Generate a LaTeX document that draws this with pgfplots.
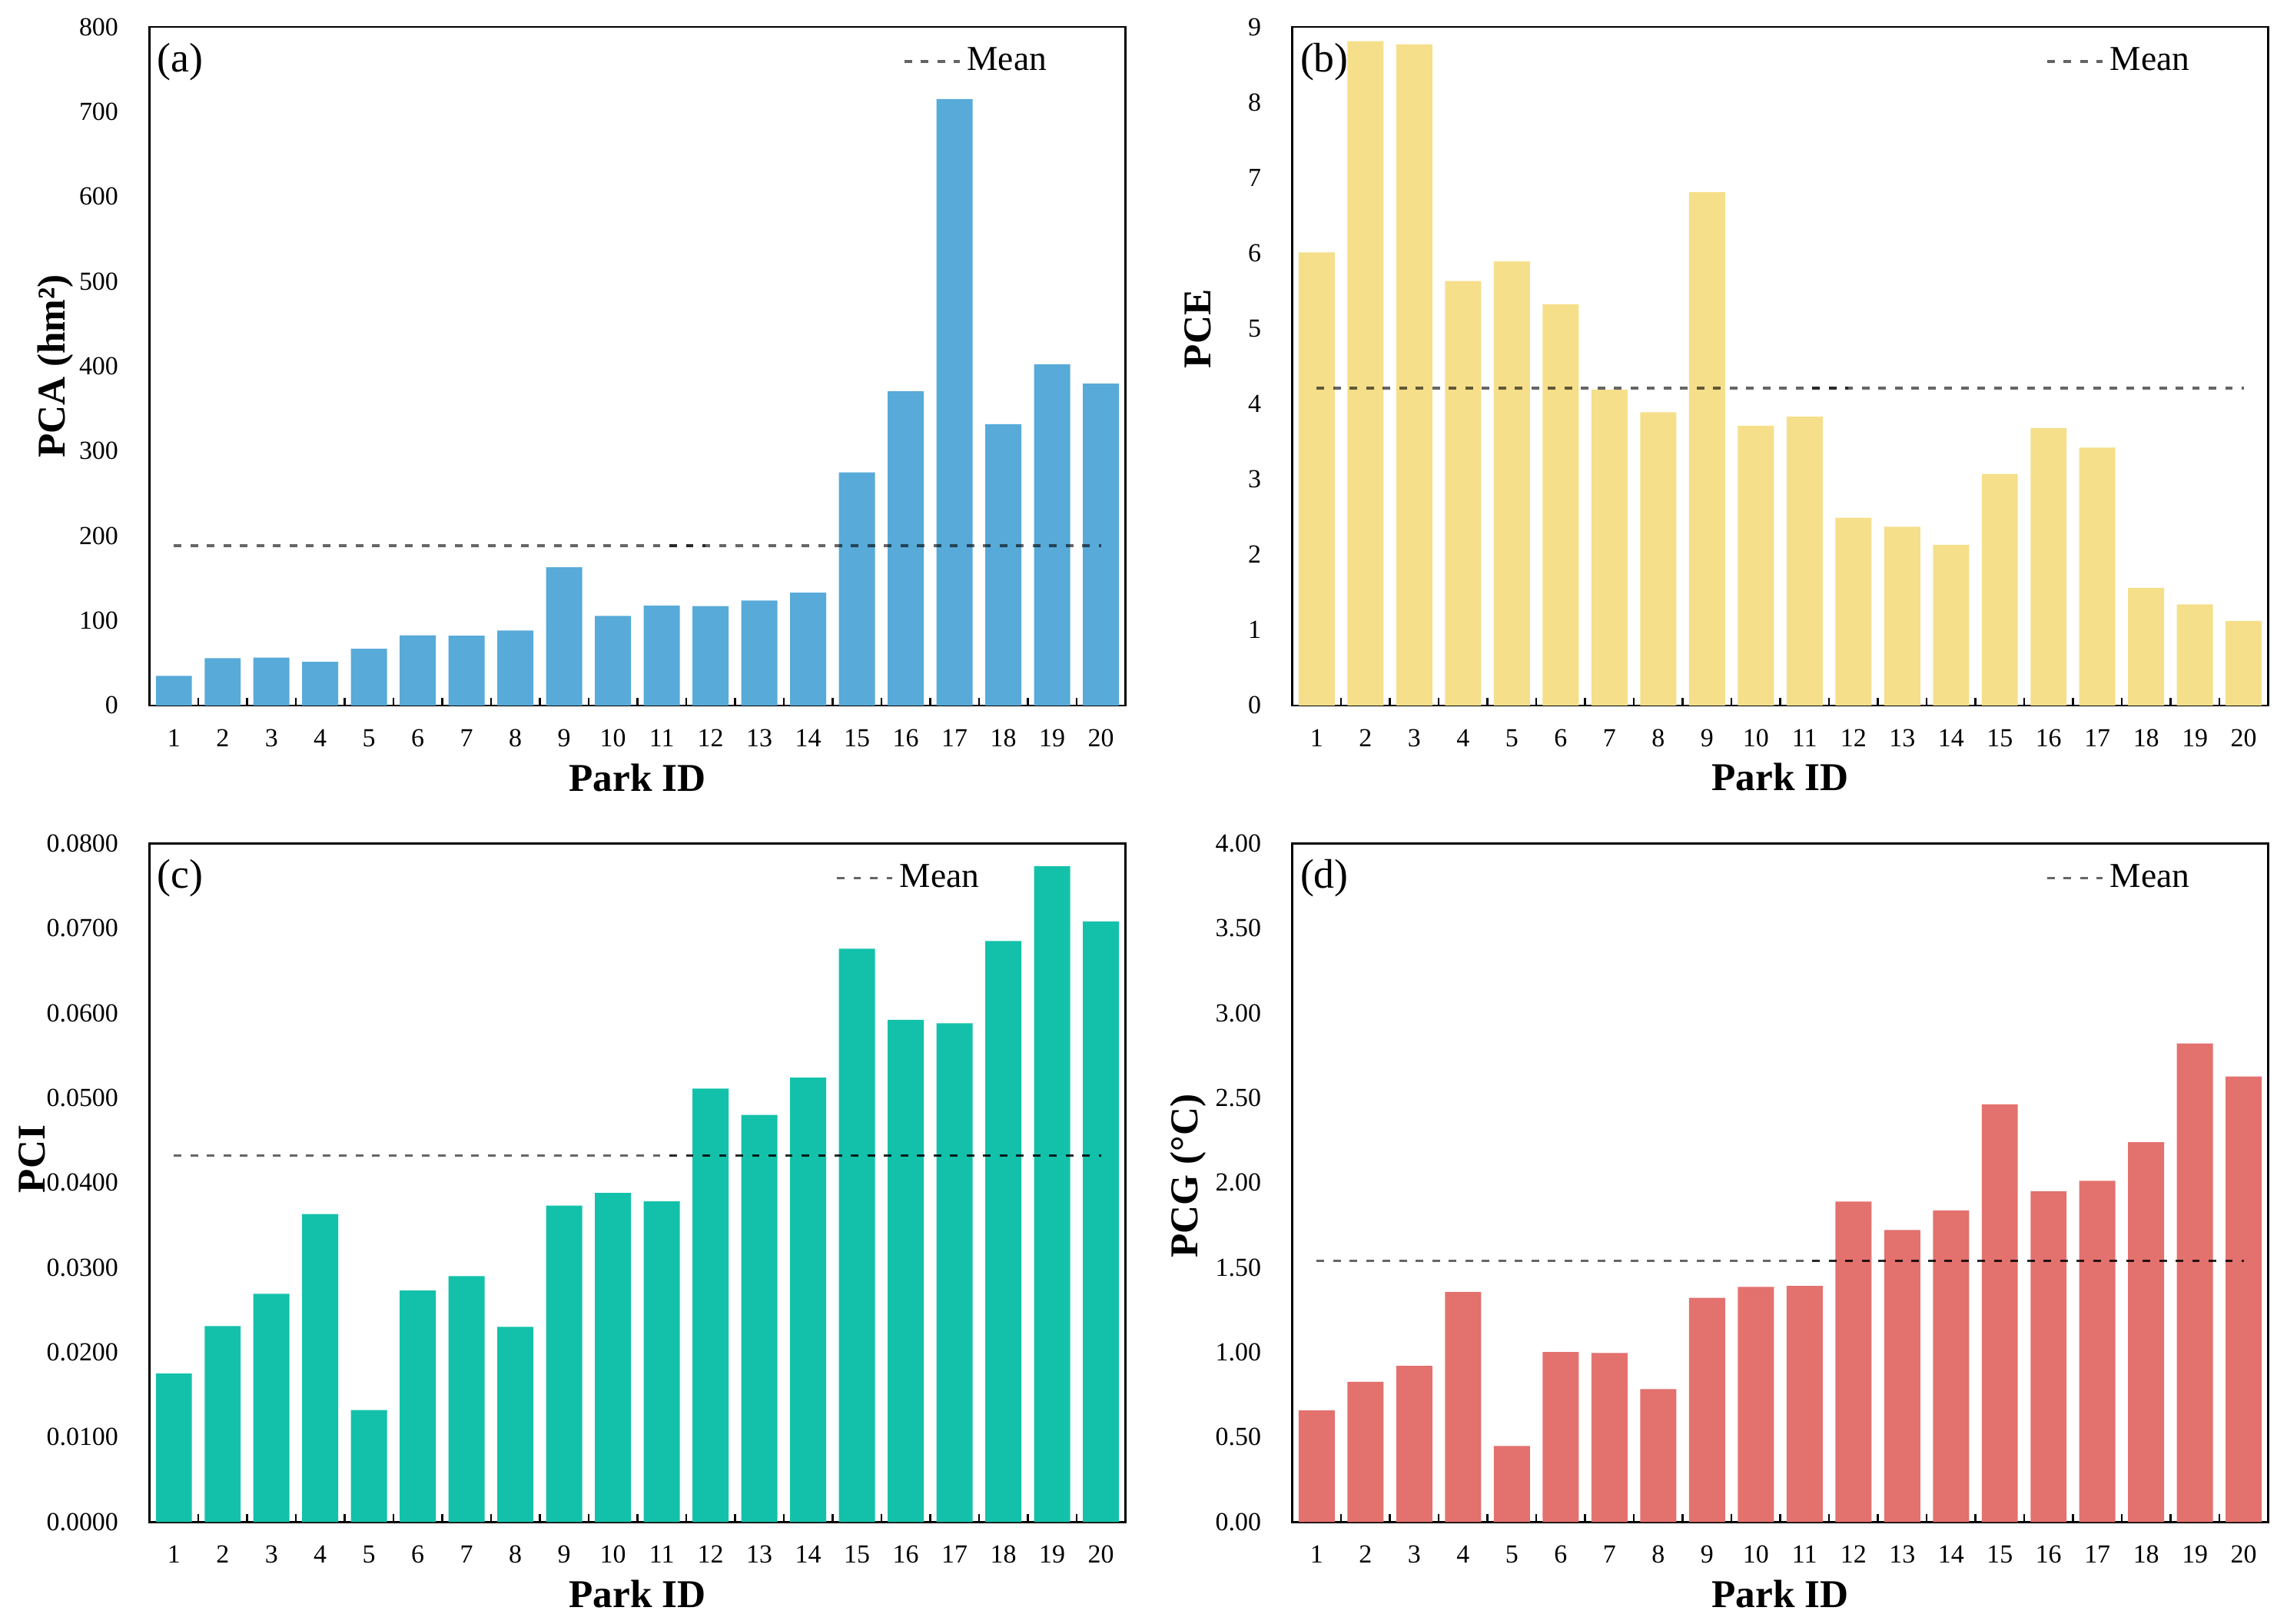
\documentclass[border=0pt]{standalone}
\usepackage{pgfplots}
\pgfplotsset{compat=1.18}
\usepackage{fontspec}
\setmainfont{Liberation Serif}
\definecolor{cA}{HTML}{58AAD8}
\definecolor{cB}{HTML}{F5DF8A}
\definecolor{cC}{HTML}{13C1AA}
\definecolor{cD}{HTML}{E3716E}

\pgfplotsset{
  panel/.style={
    width=307.2pt, height=213.6pt, scale only axis,
    anchor=north west,
    xmin=0.5, xmax=20.5, ymin=0,
    xtick={1,...,20},
    minor xtick={1.5,2.5,...,19.5},
    xtick pos=bottom, ytick pos=left,
    tick align=inside,
    major tick length=0pt,
    minor tick length=2.4pt,
    axis line style={line width=0.6pt, black},
    every tick/.style={black, line width=0.6pt},
    ytick style={draw=none},
    ticklabel style={font=\fontsize{8.2}{9}\selectfont},
    xticklabel style={yshift=-4pt},
    yticklabel style={xshift=-6.3pt},
    /pgf/number format/assume math mode=true,
    scaled y ticks=false,
    xlabel={Park ID},
    xlabel style={font=\fontsize{12.4}{14}\selectfont\bfseries,
      at={(axis description cs:0.5,-0.106)}, anchor=center},
    legend style={draw=none, fill=none, anchor=east, inner sep=0pt, outer sep=0pt,
      font=\fontsize{11}{13}\selectfont,
      /tikz/every even column/.append style={column sep=0pt}},
    legend image code/.code={\draw[#1] (0pt,0pt) -- (17.4pt,0pt);},
    clip=false,
  },
  meanline/.style={black, opacity=0.6, line width=0.8pt, dash pattern=on 2.4pt off 2.8pt},
  overline/.style={black, opacity=0.6, line width=0.8pt, dash pattern=on 2.4pt off 2.8pt, dash phase=2.8pt, forget plot},
  bars/.style={ybar, bar width=0.74, draw=none, forget plot},
}

\begin{document}
\begin{tikzpicture}
\useasboundingbox (0pt,0pt) rectangle (720pt,-511pt);

% (a)
\begin{axis}[panel, at={(47.06pt,-8.47pt)},
  ymax=800, ytick={0,100,...,800},
  ylabel={PCA (hm²)},
  ylabel style={font=\fontsize{12.4}{14}\selectfont\bfseries, at={(axis description cs:-0.0965,0.5)}, anchor=center},
  legend style={at={(axis description cs:0.926,0.949)}}]
\addplot[bars, fill=cA] coordinates {
(1,35) (2,55.8) (3,56.4) (4,51.5) (5,66.8) (6,82.8) (7,82.2) (8,88.3) (9,163) (10,105.5)
(11,117.7) (12,117.1) (13,123.8) (14,133) (15,274.7) (16,370.3) (17,714.9) (18,331.7) (19,402.2) (20,379.5)};
\addplot[meanline] coordinates {(1,188.5) (20,188.5)};
\addlegendentry{Mean}
\addplot[overline] coordinates {(11,188.5) (11.9,188.5)};
\node[anchor=west, inner sep=0pt, font=\fontsize{13}{15}\selectfont] at (rel axis cs:0.0075,0.9485) {(a)};
\end{axis}

% (b)
\begin{axis}[panel, at={(406.85pt,-8.47pt)},
  ymax=9, ytick={0,1,...,9},
  ylabel={PCE},
  ylabel style={font=\fontsize{12.4}{14}\selectfont\bfseries, at={(axis description cs:-0.097,0.555)}, anchor=center},
  legend style={at={(axis description cs:0.926,0.949)}}]
\addplot[bars, fill=cB] coordinates {
(1,6.01) (2,8.81) (3,8.77) (4,5.63) (5,5.89) (6,5.32) (7,4.19) (8,3.89) (9,6.81) (10,3.71)
(11,3.83) (12,2.49) (13,2.37) (14,2.13) (15,3.07) (16,3.68) (17,3.42) (18,1.56) (19,1.34) (20,1.12)};
\addplot[meanline] coordinates {(1,4.21) (20,4.21)};
\addlegendentry{Mean}
\addplot[overline] coordinates {(11,4.21) (11.9,4.21)};
\node[anchor=west, inner sep=0pt, font=\fontsize{13}{15}\selectfont] at (rel axis cs:0.0075,0.9485) {(b)};
\end{axis}

% (c)
\begin{axis}[panel, at={(47.06pt,-265.5pt)},
  ymax=0.08, ytick={0,0.01,0.02,0.03,0.04,0.05,0.06,0.07,0.08},
  yticklabel style={/pgf/number format/.cd, fixed, fixed zerofill, precision=4},
  ylabel={PCI},
  ylabel style={font=\fontsize{12.4}{14}\selectfont\bfseries, at={(axis description cs:-0.120,0.535)}, anchor=center},
  legend style={at={(axis description cs:0.857,0.949)}}]
\addplot[bars, fill=cC] coordinates {
(1,0.0175) (2,0.0231) (3,0.0269) (4,0.0363) (5,0.0132) (6,0.0273) (7,0.0290) (8,0.0230) (9,0.0373) (10,0.0388)
(11,0.0378) (12,0.0511) (13,0.0480) (14,0.0524) (15,0.0676) (16,0.0592) (17,0.0588) (18,0.0685) (19,0.0773) (20,0.0708)};
\addplot[meanline] coordinates {(1,0.0432) (20,0.0432)};
\addlegendentry{Mean}
\addplot[overline] coordinates {(11,0.0432) (20,0.0432)};
\node[anchor=west, inner sep=0pt, font=\fontsize{13}{15}\selectfont] at (rel axis cs:0.0075,0.9485) {(c)};
\end{axis}

% (d)
\begin{axis}[panel, at={(406.85pt,-265.5pt)},
  ymax=4, ytick={0,0.5,1,1.5,2,2.5,3,3.5,4},
  yticklabel style={/pgf/number format/.cd, fixed, fixed zerofill, precision=2},
  ylabel={PCG (°C)},
  ylabel style={font=\fontsize{12.4}{14}\selectfont\bfseries, at={(axis description cs:-0.107,0.51)}, anchor=center},
  legend style={at={(axis description cs:0.926,0.949)}}]
\addplot[bars, fill=cD] coordinates {
(1,0.658) (2,0.826) (3,0.920) (4,1.356) (5,0.448) (6,1.002) (7,0.996) (8,0.783) (9,1.322) (10,1.386)
(11,1.392) (12,1.889) (13,1.721) (14,1.837) (15,2.462) (16,1.950) (17,2.011) (18,2.239) (19,2.821) (20,2.626)};
\addplot[meanline] coordinates {(1,1.538) (20,1.538)};
\addlegendentry{Mean}
\addplot[overline] coordinates {(11,1.538) (20,1.538)};
\node[anchor=west, inner sep=0pt, font=\fontsize{13}{15}\selectfont] at (rel axis cs:0.0075,0.9485) {(d)};
\end{axis}
\end{tikzpicture}
\end{document}
